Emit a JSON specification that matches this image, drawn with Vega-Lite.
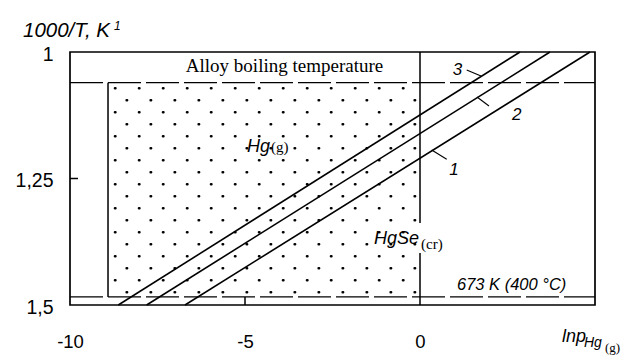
{
  "$schema": "https://vega.github.io/schema/vega-lite/v6.json",
  "width": 525,
  "height": 253,
  "autosize": {"type": "none"},
  "padding": {"left": 70, "top": 52, "right": 32, "bottom": 54},
  "background": "white",
  "config": {"view": {"stroke": "black", "strokeWidth": 1.7}, "font": "Liberation Sans"},
  "datasets": {
    "solid": [
      {"x": 0, "y": 1, "x2": 0, "y2": 1.3379},
      {"x": 0, "y": 1.3972, "x2": 0, "y2": 1.5},
      {"x": -8.914, "y": 1.0607, "x2": -8.914, "y2": 1.484},
      {"x": -10, "y": 1.25, "x2": -9.771, "y2": 1.25},
      {"x": -5, "y": 1.5, "x2": -5, "y2": 1.484}
    ],
    "curves": [
      {"curve": "1", "x": -6.714, "y": 1.5, "x2": 4.857, "y2": 1.0},
      {"curve": "2", "x": -7.81, "y": 1.5, "x2": 3.714, "y2": 1.0},
      {"curve": "3", "x": -8.62, "y": 1.5, "x2": 2.857, "y2": 1.0}
    ],
    "leaders": [
      {"curve": "3", "x": 1.334, "y": 1.0356, "x2": 1.743, "y2": 1.0474},
      {"curve": "2", "x": 1.971, "y": 1.1067, "x2": 1.629, "y2": 1.0889},
      {"curve": "1", "x": 0.334, "y": 1.1937, "x2": 0.763, "y2": 1.2121}
    ],
    "dashed": [
      {"name": "boiling", "x": -10, "y": 1.0607, "x2": 5, "y2": 1.0607},
      {"name": "673K", "x": -10, "y": 1.484, "x2": 5, "y2": 1.484}
    ],
    "dotRows": [
      {"x": -8.714, "x2": 0, "y": 1.0717},
      {"x": -8.381, "x2": 0, "y": 1.0955},
      {"x": -8.714, "x2": 0, "y": 1.1192},
      {"x": -8.381, "x2": 0, "y": 1.1429},
      {"x": -8.714, "x2": 0, "y": 1.1666},
      {"x": -8.381, "x2": 0, "y": 1.1903},
      {"x": -8.714, "x2": 0, "y": 1.2140},
      {"x": -8.381, "x2": 0, "y": 1.2377},
      {"x": -8.714, "x2": 0, "y": 1.2615},
      {"x": -8.381, "x2": 0, "y": 1.2852},
      {"x": -8.714, "x2": 0, "y": 1.3089},
      {"x": -8.381, "x2": 0, "y": 1.3326},
      {"x": -8.714, "x2": 0, "y": 1.3563},
      {"x": -8.381, "x2": 0, "y": 1.3800},
      {"x": -8.714, "x2": 0, "y": 1.4038},
      {"x": -8.381, "x2": 0, "y": 1.4275},
      {"x": -8.714, "x2": 0, "y": 1.4512},
      {"x": -8.381, "x2": 0, "y": 1.4749}
    ],
    "serifTitle": [{"x": -3.871, "y": 1.0389, "text": "Alloy boiling temperature"}],
    "curveNums": [
      {"x": 1.071, "y": 1.0455, "text": "3"},
      {"x": 2.762, "y": 1.1344, "text": "2"},
      {"x": 0.971, "y": 1.2431, "text": "1"}
    ],
    "phases": [
      {"x": -4.286, "y": 1.197, "text": "Hg"},
      {"x": -0.03, "y": 1.380, "text": "HgSe"}
    ],
    "phaseSubs": [
      {"x": -4.257, "y": 1.1976, "text": "(g)"},
      {"x": 0.03, "y": 1.390, "text": "(cr)"}
    ],
    "tempLabel": [{"x": 1.057, "y": 1.4704, "text": "673 K (400 °C)"}],
    "yTitle": [{"x": -11.343, "y": 0.9698, "text": "1000/T, K"}],
    "yTitleSup": [{"x": -8.743, "y": 0.9575, "text": "1"}],
    "xTitle": [{"x": 4.057, "y": 1.5731, "text": "lnp"}],
    "xTitleSub": [{"x": 4.686, "y": 1.5824, "text": "Hg"}],
    "xTitleSub2": [{"x": 5.286, "y": 1.5929, "text": "(g)"}]
  },
  "encoding": {
    "x": {
      "field": "x", "type": "quantitative",
      "scale": {"domain": [-10, 5], "nice": false, "zero": false},
      "axis": {
        "values": [-10, -5, 0], "labelExpr": "toString(datum.value)",
        "ticks": false, "domain": false, "grid": false, "labelFlush": false,
        "labelFontSize": 18.5, "labelColor": "black", "labelPadding": 27, "title": null
      }
    },
    "y": {
      "field": "y", "type": "quantitative",
      "scale": {"domain": [1, 1.5], "reverse": true, "nice": false, "zero": false},
      "axis": {
        "values": [1, 1.25, 1.5], "labelExpr": "replace(toString(datum.value), '.', ',')",
        "ticks": false, "domain": false, "grid": false, "labelFlush": false,
        "labelFontSize": 19.5, "labelColor": "black", "labelPadding": 17, "labelOffset": 2, "title": null
      }
    }
  },
  "layer": [
    {
      "data": {"name": "dotRows"},
      "mark": {"type": "rule", "color": "black", "strokeWidth": 2.6, "strokeCap": "round", "strokeDash": [0.4, 23.6]},
      "encoding": {"x2": {"field": "x2"}}
    },
    {
      "data": {"name": "solid"},
      "mark": {"type": "rule", "color": "black", "strokeWidth": 1.5},
      "encoding": {"x2": {"field": "x2"}, "y2": {"field": "y2"}}
    },
    {
      "data": {"name": "curves"},
      "mark": {"type": "rule", "color": "black", "strokeWidth": 1.6},
      "encoding": {"x2": {"field": "x2"}, "y2": {"field": "y2"}}
    },
    {
      "data": {"name": "leaders"},
      "mark": {"type": "rule", "color": "black", "strokeWidth": 1.1},
      "encoding": {"x2": {"field": "x2"}, "y2": {"field": "y2"}}
    },
    {
      "data": {"name": "dashed"},
      "mark": {"type": "rule", "color": "black", "strokeWidth": 1.3, "strokeDash": [33, 5]},
      "encoding": {"x2": {"field": "x2"}, "y2": {"field": "y2"}}
    },
    {
      "data": {"name": "serifTitle"},
      "mark": {"type": "text", "font": "Liberation Serif", "fontSize": 19, "align": "center", "baseline": "alphabetic", "color": "black"},
      "encoding": {"text": {"field": "text"}}
    },
    {
      "data": {"name": "curveNums"},
      "mark": {"type": "text", "fontStyle": "italic", "fontSize": 17, "align": "center", "baseline": "alphabetic", "color": "black"},
      "encoding": {"text": {"field": "text"}}
    },
    {
      "data": {"name": "phases"},
      "mark": {"type": "text", "fontStyle": "italic", "fontSize": 18, "align": "right", "baseline": "alphabetic", "color": "black"},
      "encoding": {"text": {"field": "text"}}
    },
    {
      "data": {"name": "phaseSubs"},
      "mark": {"type": "text", "font": "Liberation Serif", "fontSize": 15, "align": "left", "baseline": "alphabetic", "color": "black"},
      "encoding": {"text": {"field": "text"}}
    },
    {
      "data": {"name": "tempLabel"},
      "mark": {"type": "text", "fontStyle": "italic", "fontSize": 16.5, "align": "left", "baseline": "alphabetic", "color": "black"},
      "encoding": {"text": {"field": "text"}}
    },
    {
      "data": {"name": "yTitle"},
      "mark": {"type": "text", "fontStyle": "italic", "fontSize": 20.5, "align": "left", "baseline": "alphabetic", "color": "black"},
      "encoding": {"text": {"field": "text"}}
    },
    {
      "data": {"name": "yTitleSup"},
      "mark": {"type": "text", "fontStyle": "italic", "fontSize": 12, "align": "left", "baseline": "alphabetic", "color": "black"},
      "encoding": {"text": {"field": "text"}}
    },
    {
      "data": {"name": "xTitle"},
      "mark": {"type": "text", "fontStyle": "italic", "fontSize": 18, "align": "left", "baseline": "alphabetic", "color": "black"},
      "encoding": {"text": {"field": "text"}}
    },
    {
      "data": {"name": "xTitleSub"},
      "mark": {"type": "text", "fontStyle": "italic", "fontSize": 14, "align": "left", "baseline": "alphabetic", "color": "black"},
      "encoding": {"text": {"field": "text"}}
    },
    {
      "data": {"name": "xTitleSub2"},
      "mark": {"type": "text", "font": "Liberation Serif", "fontSize": 13, "align": "left", "baseline": "alphabetic", "color": "black"},
      "encoding": {"text": {"field": "text"}}
    }
  ]
}
